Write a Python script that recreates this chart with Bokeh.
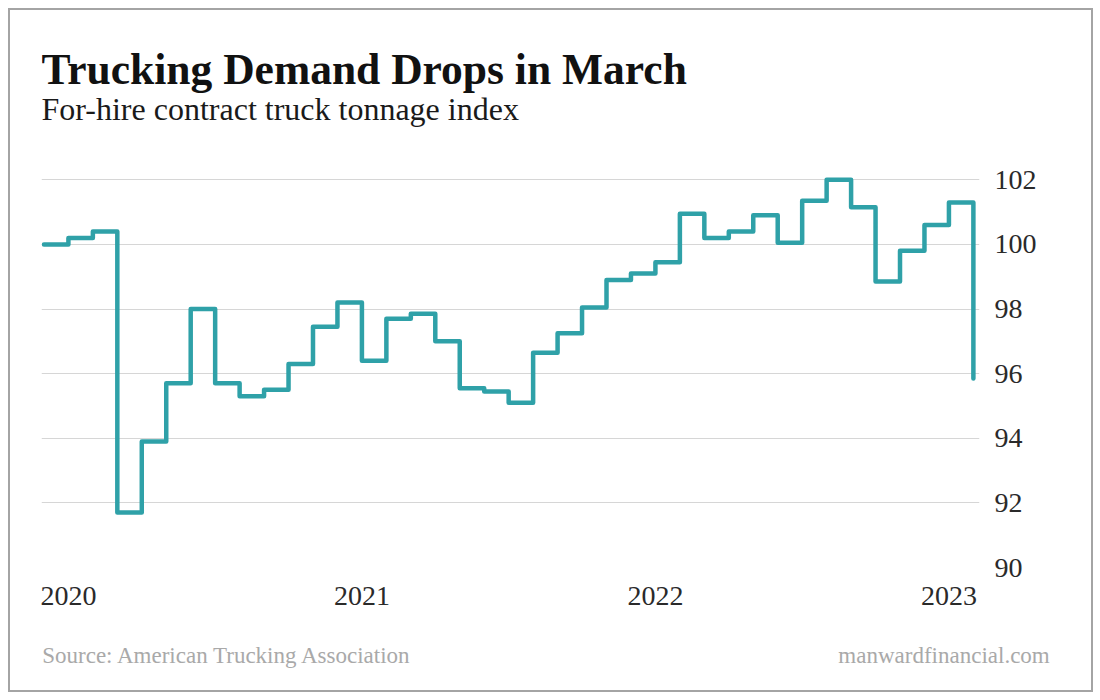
from bokeh.plotting import figure
from bokeh.models import ColumnDataSource, FixedTicker, LinearAxis, Label
from bokeh.embed import file_html
from bokeh.resources import INLINE

# ---- data (monthly, Jan 2020 .. Mar 2023) ----
months = [
    "2020-01", "2020-02", "2020-03", "2020-04", "2020-05", "2020-06",
    "2020-07", "2020-08", "2020-09", "2020-10", "2020-11", "2020-12",
    "2021-01", "2021-02", "2021-03", "2021-04", "2021-05", "2021-06",
    "2021-07", "2021-08", "2021-09", "2021-10", "2021-11", "2021-12",
    "2022-01", "2022-02", "2022-03", "2022-04", "2022-05", "2022-06",
    "2022-07", "2022-08", "2022-09", "2022-10", "2022-11", "2022-12",
    "2023-01", "2023-02", "2023-03",
]
tonnage = [
    100.0, 100.2, 100.4, 91.7, 93.9, 95.7,
    98.0, 95.7, 95.3, 95.5, 96.3, 97.45,
    98.2, 96.4, 97.7, 97.85, 97.0, 95.55,
    95.45, 95.1, 96.65, 97.25, 98.05, 98.9,
    99.1, 99.45, 100.95, 100.2, 100.4, 100.9,
    100.05, 101.35, 102.0, 101.15, 98.85, 99.8,
    100.6, 101.3, 95.85,
]
year_labels = ["2020", "2021", "2022", "2023"]
y_ticks = [90, 92, 94, 96, 98, 100, 102]

title_text = "Trucking Demand Drops in March"
subtitle_text = "For-hire contract truck tonnage index"
source_text = "Source: American Trucking Association"
brand_text = "manwardfinancial.com"

SERIF = "Liberation Serif"

idx = list(range(len(months)))
src = ColumnDataSource(dict(x=idx, y=tonnage, month=months))

# the frame reaches up to hold the header; grid/ticks stop at 102
p = figure(
    output_backend="svg", toolbar_location=None,
    frame_width=938, frame_height=537,
    min_border_left=31, min_border_right=112,
    min_border_top=20, min_border_bottom=123,
    x_range=(-0.1, 38.25), y_range=(90, 106.62),
    y_axis_location="right",
    background_fill_color="white", border_fill_color="white",
)
p.styles = {"border": "2px solid #a4a4a4", "margin": "8px 0 0 8px"}
p.outline_line_color = None

# header (screen offsets from the frame's bottom-left corner)
p.add_layout(Label(x=0, y=499, x_units="screen", y_units="screen",
                   text=title_text, text_font=SERIF,
                   text_font_style="bold", text_font_size="43.5px",
                   text_color="#111111", text_baseline="alphabetic"))
p.add_layout(Label(x=0, y=459, x_units="screen", y_units="screen",
                   text=subtitle_text, text_font=SERIF,
                   text_font_size="32px", text_color="#1a1a1a",
                   text_baseline="alphabetic"))

p.step("x", "y", source=src, mode="after", line_color="#2fa1a8",
       line_width=4.5, line_join="round", line_cap="round")

p.xgrid.visible = False
p.ygrid.grid_line_color = "#d6d6d6"
p.ygrid.grid_line_width = 1
p.ygrid.ticker = FixedTicker(ticks=y_ticks)

ya = p.yaxis[0]
ya.ticker = FixedTicker(ticks=y_ticks)
ya.axis_line_color = None
ya.major_tick_line_color = None
ya.minor_tick_line_color = None
ya.major_tick_out = 0
ya.major_label_standoff = 15
ya.major_label_text_font = SERIF
ya.major_label_text_font_size = "28px"
ya.major_label_text_color = "#2a2a2a"

xticks = [12 * k + 1 for k in range(len(year_labels))]
xa = p.xaxis[0]
xa.ticker = FixedTicker(ticks=xticks)
xa.major_label_overrides = {t: lab for t, lab in zip(xticks, year_labels)}
xa.axis_line_color = None
xa.major_tick_line_color = None
xa.minor_tick_line_color = None
xa.major_tick_out = 0
xa.major_label_standoff = 19
xa.major_label_text_font = SERIF
xa.major_label_text_font_size = "28px"
xa.major_label_text_color = "#2a2a2a"

# footer: source (left) and site (right) as labels of a second, bare axis
foot_pos = [7.5, 36.8]
foot = LinearAxis(ticker=FixedTicker(ticks=foot_pos),
                  major_label_overrides={foot_pos[0]: source_text,
                                         foot_pos[1]: brand_text})
foot.axis_line_color = None
foot.major_tick_line_color = None
foot.minor_tick_line_color = None
foot.major_tick_out = 0
foot.major_label_standoff = 35
foot.major_label_text_font = SERIF
foot.major_label_text_font_size = "23px"
foot.major_label_text_color = "#a9a9a9"
p.add_layout(foot, "below")

open("out.html", "w").write(file_html(p, INLINE))
